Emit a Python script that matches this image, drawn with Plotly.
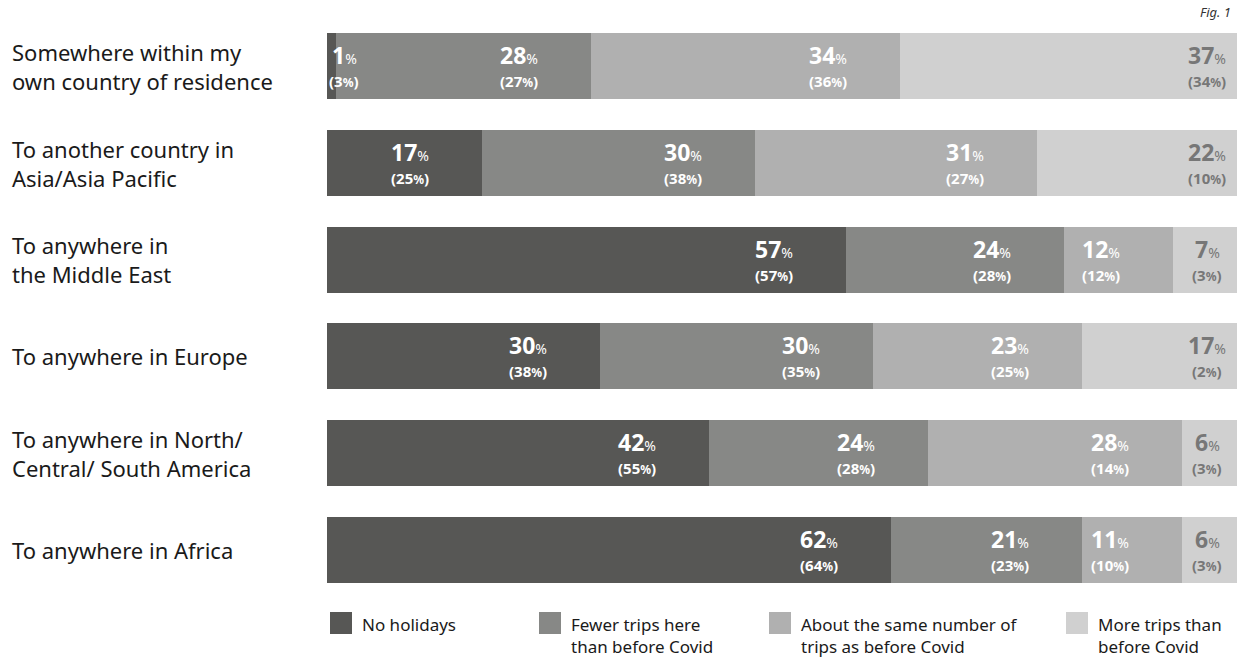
import plotly.graph_objects as go

categories = [
    "Somewhere within my<br>own country of residence",
    "To another country in<br>Asia/Asia Pacific",
    "To anywhere in<br>the Middle East",
    "To anywhere in Europe",
    "To anywhere in North/<br>Central/ South America",
    "To anywhere in Africa",
]
series_names = [
    "No holidays",
    "Fewer trips here<br>than before Covid",
    "About the same number of<br>trips as before Covid",
    "More trips than<br>before Covid",
]
no_holidays = [1, 17, 57, 30, 42, 62]
fewer_trips = [28, 30, 24, 30, 24, 21]
same_trips = [34, 31, 12, 23, 28, 11]
more_trips = [37, 22, 7, 17, 6, 6]
prev_no_holidays = [3, 25, 57, 38, 55, 64]
prev_fewer_trips = [27, 38, 28, 35, 28, 23]
prev_same_trips = [36, 27, 12, 25, 14, 10]
prev_more_trips = [34, 10, 3, 2, 3, 3]

colors = ["#575755", "#878886", "#b0b0b0", "#d0d0d0"]
text_colors = ["#ffffff", "#ffffff", "#ffffff", "#777777"]

values = [no_holidays, fewer_trips, same_trips, more_trips]
prev = [prev_no_holidays, prev_fewer_trips, prev_same_trips, prev_more_trips]

FONT = "Noto Sans"
W, H = 1241, 657
ML, MR, MT, MB = 327, 4, 18, 59
PW = W - ML - MR
PH = H - MT - MB

fig = go.Figure()
for i, name in enumerate(series_names):
    fig.add_trace(go.Bar(
        y=categories, x=values[i], orientation="h", name=name,
        marker=dict(color=colors[i], line=dict(width=0)),
        showlegend=False, hoverinfo="skip",
    ))

annotations = []
for r, cat in enumerate(categories):
    annotations.append(dict(
        xref="paper", yref="y", x=(10 - ML) / PW, y=cat, xanchor="left", yanchor="middle",
        align="left", text=cat, showarrow=False,
        font=dict(family=FONT, size=22, color="#1a1a1a"),
    ))
    cum = 0
    for i in range(4):
        v = values[i][r]
        p = prev[i][r]
        start = cum
        cum += v
        if v < 5:
            x, xs = start, 17
        elif i == 3:
            x, xs = cum, -30
        else:
            x, xs = cum, -72
        top = f"<b>{v}</b><span style='font-size:14px'>%</span>"
        bot = f"<b>({p}<span style='font-size:12px'>%</span>)</b>"
        for txt, ys, sz in ((top, 11, 23), (bot, -15, 15)):
            annotations.append(dict(
                xref="x", yref="y", x=x, y=cat, xshift=xs, yshift=ys,
                xanchor="center", yanchor="middle", text=txt, showarrow=False,
                font=dict(family=FONT, size=sz, color=text_colors[i]),
            ))

# Fig. 1 label
annotations.append(dict(
    xref="paper", yref="paper", x=(1233 - ML) / PW, y=(H - MB - 12) / PH,
    xanchor="right", yanchor="middle", text="<i>Fig. 1</i>", showarrow=False,
    font=dict(family=FONT, size=13, color="#333333"),
))

# custom legend
shapes = []
leg_x = [330, 539, 769, 1066]
for i, name in enumerate(series_names):
    x0 = (leg_x[i] - ML) / PW
    x1 = (leg_x[i] + 22 - ML) / PW
    y0 = (H - MB - 634) / PH
    y1 = (H - MB - 612) / PH
    shapes.append(dict(type="rect", xref="paper", yref="paper", x0=x0, x1=x1, y0=y0, y1=y1,
                       fillcolor=colors[i], line=dict(width=0)))
    annotations.append(dict(
        xref="paper", yref="paper", x=(leg_x[i] + 30 - ML) / PW, y=(H - MB - 611) / PH,
        xanchor="left", yanchor="top", align="left", text=name, showarrow=False,
        font=dict(family=FONT, size=17, color="#1a1a1a"),
    ))

fig.update_layout(
    barmode="stack", bargap=0.32,
    width=W, height=H,
    margin=dict(l=ML, r=MR, t=MT, b=MB),
    plot_bgcolor="white", paper_bgcolor="white",
    xaxis=dict(range=[0, 100], visible=False, fixedrange=True),
    yaxis=dict(autorange="reversed", visible=False, fixedrange=True),
    annotations=annotations, shapes=shapes,
    font=dict(family=FONT),
)

fig.write_html(
    "out.html",
    config={"displayModeBar": False},
    post_script="document.body.style.margin='0';document.body.style.overflow='hidden';",
)
